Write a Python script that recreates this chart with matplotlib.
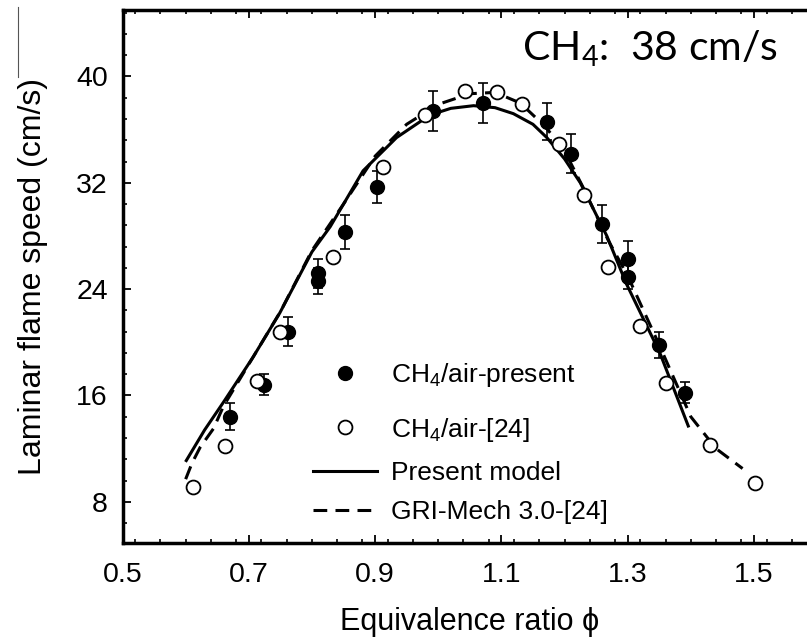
import matplotlib
matplotlib.use('Agg')
import matplotlib.pyplot as plt
from matplotlib.lines import Line2D
from matplotlib.ticker import MultipleLocator

plt.rcParams['font.family'] = ['Liberation Sans', 'DejaVu Sans']

# ---- data ----
present_phi = [0.671, 0.724, 0.762, 0.809, 0.809, 0.852, 0.903, 0.992, 1.071,
               1.172, 1.210, 1.260, 1.301, 1.301, 1.350, 1.391]
present_su = [14.4, 16.8, 20.8, 25.2, 24.6, 28.3, 31.7, 37.4, 38.0,
              36.6, 34.2, 28.9, 26.3, 24.9, 19.8, 16.2]
present_err = [1.0, 0.8, 1.1, 1.1, 1.0, 1.3, 1.2, 1.5, 1.5,
               1.4, 1.5, 1.4, 1.35, 0.9, 0.95, 0.8]

ref_phi = [0.611, 0.663, 0.713, 0.750, 0.833, 0.913, 0.979, 1.042, 1.093,
           1.132, 1.192, 1.231, 1.269, 1.320, 1.361, 1.430, 1.502]
ref_su = [9.1, 12.2, 17.1, 20.8, 26.4, 33.2, 37.1, 38.9, 38.8,
          37.95, 34.95, 31.1, 25.7, 21.2, 16.95, 12.3, 9.4]

model_phi = [0.601, 0.630, 0.660, 0.707, 0.749, 0.800, 0.829, 0.881, 0.934,
             0.987, 1.020, 1.056, 1.090, 1.119, 1.150, 1.172, 1.200, 1.225,
             1.267, 1.298, 1.351, 1.396]
model_su = [11.1, 13.4, 15.5, 18.9, 22.2, 26.8, 28.7, 32.9, 35.4,
            37.1, 37.6, 37.8, 37.65, 37.2, 36.4, 35.4, 33.8, 32.0,
            28.0, 24.4, 19.2, 13.7]

gri_phi = [0.600, 0.610, 0.623, 0.644, 0.660, 0.707, 0.750, 0.800, 0.850,
           0.900, 0.950, 1.000, 1.050, 1.090, 1.130, 1.170, 1.200, 1.230,
           1.270, 1.300, 1.350, 1.400, 1.440, 1.482]
gri_su = [9.7, 10.9, 12.1, 13.5, 15.2, 18.9, 22.3, 26.9, 30.4,
          34.0, 36.4, 37.9, 38.7, 38.8, 38.0, 36.2, 34.4, 31.6,
          27.6, 25.0, 19.8, 14.4, 12.0, 10.5]

x_ticks = [0.5, 0.7, 0.9, 1.1, 1.3, 1.5]
x_tick_labels = ['0.5', '0.7', '0.9', '1.1', '1.3', '1.5']
y_ticks = [8, 16, 24, 32, 40]
y_tick_labels = ['8', '16', '24', '32', '40']

fig = plt.figure(figsize=(8.07, 6.4), dpi=100)
ax = fig.add_axes([0.1518, 0.1516, 0.8607, 0.8328])

line_model, = ax.plot(model_phi, model_su, color='black', lw=2.2, zorder=3)
line_gri, = ax.plot(gri_phi, gri_su, color='black', lw=2.2, ls=(0, (4.5, 2.7)),
                    zorder=3)
eb = ax.errorbar(present_phi, present_su, yerr=present_err, fmt='o', color='black',
                 ms=10, ecolor='black', elinewidth=1.2, capsize=3.6, capthick=1.2,
                 zorder=4)
pts_ref, = ax.plot(ref_phi, ref_su, 'o', ms=10, mfc='white', mec='black', mew=1.3,
                   ls='none', zorder=5)

ax.set_xlim(0.5, 1.6)
ax.set_ylim(4.9, 45.0)
ax.set_xticks(x_ticks)
ax.set_xticklabels(x_tick_labels)
ax.set_yticks(y_ticks)
ax.set_yticklabels(y_tick_labels)
ax.xaxis.set_minor_locator(MultipleLocator(0.04))
ax.yaxis.set_minor_locator(MultipleLocator(1.6))

for sp in ax.spines.values():
    sp.set_linewidth(2.5)
ax.tick_params(which='both', direction='in', top=True, right=True, color='black')
ax.tick_params(which='major', length=5.5, width=1.3)
ax.tick_params(which='minor', length=3.1, width=1.2)
ax.tick_params(axis='x', labelsize=20.5, pad=14)
ax.tick_params(axis='y', labelsize=20.5, pad=10.5)

ax.set_xlabel('Equivalence ratio \u03d5', fontsize=22, va='baseline')
ax.xaxis.set_label_coords(0.5, -0.1632)
ax.set_ylabel('Laminar flame speed (cm/s)', fontsize=23, va='center')
ax.yaxis.set_label_coords(-0.1289, 0.5)

leg1 = ax.legend(handles=[eb[0], pts_ref],
                 labels=['CH$_\\mathregular{4}$/air-present', 'CH$_\\mathregular{4}$/air-[24]'],
                 loc='center left',
                 bbox_to_anchor=(0.2738, 0.2639), frameon=False, fontsize=19,
                 handlelength=2.43, handletextpad=0.55, borderpad=0,
                 borderaxespad=0, labelspacing=1.0)
ax.add_artist(leg1)
leg2 = ax.legend(handles=[line_model, line_gri],
                 labels=['Present model', 'GRI-Mech 3.0-[24]'],
                 loc='center left',
                 bbox_to_anchor=(0.2738, 0.0947), frameon=False, fontsize=19,
                 handlelength=2.43, handletextpad=0.55, borderpad=0,
                 borderaxespad=0, labelspacing=0.56)

fig.text(521.7 / 807, 1 - 60.7 / 640, 'CH$_\\mathregular{4}$:  38 cm/s',
         family='Lato', fontsize=29.5, va='baseline', ha='left')

fig.add_artist(Line2D([18.3 / 807, 18.3 / 807], [1 - 6.7 / 640, 1 - 76.7 / 640],
                      transform=fig.transFigure, color='#555555', lw=0.8))

fig.savefig('out.png', dpi=100)
